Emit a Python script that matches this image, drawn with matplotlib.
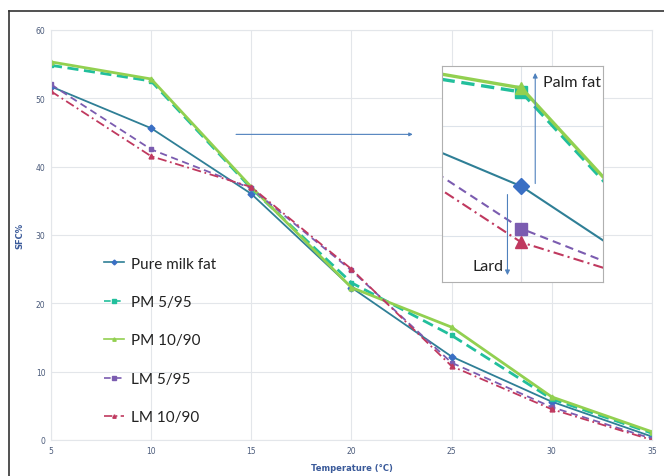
import numpy as np
import matplotlib.pyplot as plt
from matplotlib.lines import Line2D

# Data
temperature = [5, 10, 15, 20, 25, 30, 35]
pure_milk_fat = [51.7, 45.6, 36.0, 22.3, 12.2, 5.6, 0.5]
pm_5_95 = [54.8, 52.5, 36.8, 23.0, 15.3, 6.0, 1.0]
pm_10_90 = [55.3, 52.8, 37.0, 22.3, 16.5, 6.3, 1.2]
lm_5_95 = [52.0, 42.5, 36.8, 24.8, 11.3, 4.8, 0.2]
lm_10_90 = [51.0, 41.5, 37.0, 25.0, 10.8, 4.5, 0.0]

series = [
    ("Pure milk fat", pure_milk_fat, "#2f7f96", "#3a6fc4", "-", "D"),
    ("PM 5/95", pm_5_95, "#22bf9c", "#22bf9c", (0, (4, 2)), "s"),
    ("PM 10/90", pm_10_90, "#92d050", "#92d050", "-", "^"),
    ("LM 5/95", lm_5_95, "#7b5cb0", "#7b5cb0", (0, (4, 2.5)), "s"),
    ("LM 10/90", lm_10_90, "#c0395f", "#c0395f", (0, (5, 2, 1, 2)), "^"),
]

fig = plt.figure(figsize=(6.64, 4.77), dpi=100)

# outer frame (left and top edges)
fig.add_artist(Line2D([9 / 664, 9 / 664], [0, 1 - 12 / 477], color="#333333", lw=1.2))
fig.add_artist(Line2D([9 / 664, 1], [1 - 12 / 477, 1 - 12 / 477], color="#333333", lw=1.2))

ax = fig.add_axes([0.0768, 0.0755, 0.905, 0.86])
for name, vals, lc, mc, ls, mk in series:
    lw = 2.0 if name in ("PM 5/95", "PM 10/90") else 1.3
    ax.plot(temperature, vals, color=lc, linestyle=ls, lw=lw, marker=mk,
            markersize=3.5, markerfacecolor=mc, markeredgecolor=mc, label=name)

ax.set_xlim(5, 35)
ax.set_ylim(0, 60)
ax.set_xticks(range(5, 40, 5))
ax.set_yticks(range(0, 70, 10))
ax.grid(True, color="#e3e6ea", lw=0.8)
ax.set_axisbelow(True)
for s in ax.spines.values():
    s.set_color("#e3e6ea")
ax.tick_params(length=0, labelsize=5.5, labelcolor="#4a5a7a", pad=4)
ax.set_xlabel("Temperature (°C)", fontsize=6, fontweight="bold", color="#3a5a9a", labelpad=6)
ax.set_ylabel("SFC%", fontsize=6, fontweight="bold", color="#3a5a9a", labelpad=8)

# pointer toward inset
ax.annotate("", xy=(23.2, 44.7), xytext=(14.1, 44.7),
            arrowprops=dict(arrowstyle="-|>", color="#4f81bd", lw=0.8, mutation_scale=5))

leg = ax.legend(loc="upper left", bbox_to_anchor=(0.078, 0.462), frameon=False,
                prop={"family": "Lato", "size": 11}, labelspacing=1.6,
                handlelength=1.3, handletextpad=0.5, markerscale=0.7,
                borderaxespad=0)
for t in leg.get_texts():
    t.set_color("#222222")
for h in leg.get_lines():
    h.set_linewidth(1.2)

# zoomed inset around 10 °C
ins = fig.add_axes([0.6657, 0.4067, 0.2425, 0.4528])
for name, vals, lc, mc, ls, mk in series:
    lw = 2.4 if name in ("PM 5/95", "PM 10/90") else 1.5
    ins.plot(temperature, vals, color=lc, linestyle=ls, lw=lw, marker=mk,
             markersize=8, markerfacecolor=mc, markeredgecolor=mc)
ins.set_xlim(8, 12.06)
ins.set_ylim(38.6, 54.4)
ins.set_xticks([10])
ins.set_yticks([42, 50])
ins.grid(True, color="#dde3ea", lw=0.8)
ins.set_axisbelow(True)
ins.tick_params(length=0, labelbottom=False, labelleft=False)
for s in ins.spines.values():
    s.set_color("#b0b0b0")
    s.set_linewidth(0.8)

ins.annotate("", xy=(10.35, 54.1), xytext=(10.35, 45.6),
             arrowprops=dict(arrowstyle="-|>", color="#4f81bd", lw=0.8, mutation_scale=7))
ins.text(10.55, 53.2, "Palm fat", fontsize=11.5, family="Lato", color="#222222",
         va="center", ha="left")
ins.annotate("", xy=(9.65, 38.9), xytext=(9.65, 45.2),
             arrowprops=dict(arrowstyle="-|>", color="#4f81bd", lw=0.8, mutation_scale=7))
ins.text(9.55, 39.8, "Lard", fontsize=11.5, family="Lato", color="#222222",
         va="center", ha="right")

fig.savefig("out.png", dpi=100)
